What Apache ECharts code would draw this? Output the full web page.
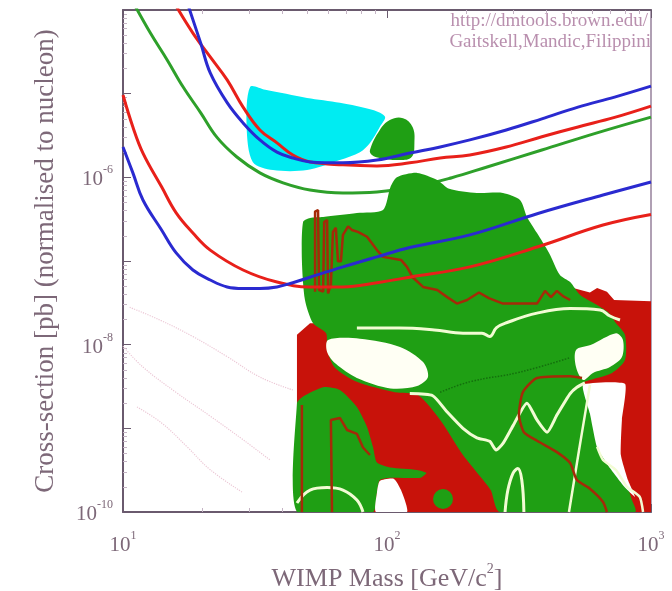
<!DOCTYPE html>
<html>
<head>
<meta charset="utf-8">
<script src="https://cdn.jsdelivr.net/npm/echarts@6/dist/echarts.min.js"></script>
<style>
  html, body { margin: 0; padding: 0; background: #fff; }
  #chart { width: 672px; height: 591px; }
</style>
</head>
<body>
<div id="chart"></div>
<script>
// tick label exponents
var xLabelExps = [1, 2, 3];
var yLabelExps = [-6, -8, -10];

// limit curves [mass GeV, cross-section pb]
var blueUpper = [[17.4,1.3e-4],[19.7,4.0e-5],[21.4,1.77e-5],[24.8,7.8e-6],[28.5,4.47e-6],[33.0,2.8e-6],[38.3,2.0e-6],[44.0,1.7e-6],[51.1,1.53e-6],[68.1,1.49e-6],[91.6,1.61e-6],[122,1.95e-6],[159,2.31e-6],[206,2.8e-6],[283,3.68e-6],[386,5.0e-6],[529,6.9e-6],[728,9.1e-6],[1000,1.23e-5]];
var redUpper = [[15.4,1.32e-4],[18.4,5.3e-5],[21.4,2.75e-5],[24.8,1.46e-5],[28.5,6.9e-6],[33.0,3.68e-6],[38.3,2.58e-6],[44.0,1.85e-6],[51.1,1.53e-6],[68.1,1.41e-6],[91.6,1.37e-6],[122,1.49e-6],[159,1.7e-6],[206,1.85e-6],[283,2.3e-6],[386,3.05e-6],[529,4.0e-6],[728,5.2e-6],[1000,7.1e-6]];
var greenUpper = [[10.8,1.32e-4],[12.7,5.3e-5],[14.7,2.53e-5],[16.9,1.2e-5],[19.7,5.9e-6],[22.7,3.0e-6],[27.0,1.75e-6],[33.0,1.13e-6],[40.4,8.6e-7],[51.1,7.06e-7],[68.1,6.5e-7],[91.6,6.7e-7],[122,7.5e-7],[176,9.9e-7],[241,1.34e-6],[386,2.12e-6],[620,3.38e-6],[1000,5.25e-6]];
var redLower = [[10,9.64e-6],[10.9,4.0e-6],[11.9,1.95e-6],[14.0,7.7e-7],[15.9,3.76e-7],[18.4,2.16e-7],[21.4,1.35e-7],[28.5,7.81e-8],[38.3,5.6e-8],[51.1,4.9e-8],[68.1,4.9e-8],[91.6,5.5e-8],[122,6.4e-8],[206,8.5e-8],[373,1.48e-7],[658,2.69e-7],[1000,3.6e-7]];
var blueLower = [[10,2.3e-6],[10.9,1.13e-6],[11.9,5.36e-7],[14.0,2.35e-7],[15.9,1.25e-7],[18.4,7.81e-8],[21.4,5.93e-8],[24.8,4.9e-8],[28.5,4.7e-8],[33.0,4.7e-8],[38.3,4.9e-8],[44.0,5.5e-8],[51.1,6.4e-8],[68.1,8.5e-8],[91.6,1.12e-7],[122,1.45e-7],[206,2.05e-7],[373,3.7e-7],[658,6.15e-7],[1000,8.8e-7]];

// faint dotted theory curves
var dotA = [[10.6,2.8e-8],[13.8,1.97e-8],[18.4,1.25e-8],[24.8,7.2e-9],[33.0,4.1e-9],[44.0,2.87e-9]];
var dotB = [[10,9.6e-9],[11.9,5.4e-9],[16.0,2.65e-9],[21.4,1.4e-9],[28.5,7.3e-10],[36.0,4.2e-10]];
var dotC = [[11.3,1.8e-9],[14.0,1.16e-9],[17.5,6.0e-10],[21.4,3.2e-10],[28.5,1.7e-10]];
var dotGreen = [[159,2.7e-9],[206,3.6e-9],[319,4.7e-9],[494,7.0e-9]];

// filled regions
var cyanRegion = [[30.3,1.2e-5],[34.6,1.11e-5],[49.8,8.9e-6],[66.3,7.8e-6],[88.5,6.38e-6],[98.3,5.3e-6],[93.9,4.0e-6],[86.2,2.58e-6],[79.0,2.0e-6],[66.3,1.61e-6],[49.8,1.22e-6],[37.0,1.22e-6],[31.0,1.53e-6],[29.4,4.0e-6]];
var greenSmall = [[86.2,2.12e-6],[93.9,3.68e-6],[102.5,4.85e-6],[115,5.1e-6],[125,4.0e-6],[127,2.58e-6],[124,1.75e-6],[112,1.61e-6],[93.9,1.7e-6],[87.7,1.85e-6]];
var redBase = [[45.6,1e-10],[45.6,1.31e-8],[51.1,1.8e-8],[60.8,1.8e-8],[452,5.93e-8],[507,4.75e-8],[587,4.2e-8],[625,4.75e-8],[681,4.3e-8],[725,3.42e-8],[1000,3.3e-8],[1000,1e-10]];
var greenMain = [[48.1,2.93e-7],[51.1,3.27e-7],[57.3,3.36e-7],[76.9,3.75e-7],[96.6,4.07e-7],[103,7.6e-7],[109,1.0e-6],[130,1.13e-6],[155,9.3e-7],[172,7.3e-7],[219,6.5e-7],[275,6.5e-7],[319,5.36e-7],[339,3.36e-7],[370,2.16e-7],[411,1.25e-7],[452,6.8e-8],[494,5.6e-8],[539,3.93e-8],[625,2.98e-8],[693,2.39e-8],[737,1.8e-8],[797,1.31e-8],[797,6.56e-9],[712,4.6e-9],[587,3.78e-9],[553,3.46e-9],[577,2.18e-9],[625,1.26e-9],[681,6.33e-10],[737,3.65e-10],[797,2.41e-10],[847,1.39e-10],[870,1e-10],[268,1e-10],[247,1.83e-10],[223,2.77e-10],[194,4.8e-10],[159,1.26e-9],[131,2.5e-9],[107,2.7e-9],[76.9,3.6e-9],[63.5,5.3e-9],[59.3,8.64e-9],[58.8,1.37e-8],[52.5,1.8e-8],[48.9,3.42e-8],[47.6,1.03e-7]];
var greenLowLeft = [[45.6,1e-10],[45.6,2.0e-9],[48.1,2.4e-9],[57.3,3.1e-9],[66.3,2.87e-9],[76.9,1.8e-9],[84,1.04e-9],[88.5,6.0e-10],[91.6,3.9e-10],[103,3.4e-10],[130,3.18e-10],[141,2.93e-10],[134,2.57e-10],[103,2.57e-10],[93.9,2.41e-10],[91.6,1.7e-10],[88.5,1e-10]];
var greenDot = [[163,1.43e-10]];
var whitePatch = [[93.9,2.35e-10],[106,2.5e-10],[113,1.83e-10],[119,1e-10],[90.8,1e-10],[91.6,1.7e-10]];
var whiteHole1 = [[59.8,1.14e-8],[79,1.18e-8],[112,9.4e-9],[137,6.2e-9],[143,4.1e-9],[130,3.2e-9],[103,3.0e-9],[76.9,4.0e-9],[64,5.9e-9],[59.3,8.2e-9]];
var whiteHole2 = [[520,8.64e-9],[590,9.9e-9],[737,1.37e-8],[783,1.14e-8],[776,7.1e-9],[699,5.4e-9],[603,4.6e-9],[553,3.78e-9],[520,5.4e-9]];
var whiteRight = [[553,3.3e-9],[797,3.4e-9],[776,1.26e-9],[769,4.8e-10],[818,2.41e-10],[870,1.52e-10],[797,1.96e-10],[699,3.35e-10],[625,5.9e-10],[587,1.5e-9]];

// contour lines inside the regions
var white1 = [[76.9,1.58e-8],[111,1.58e-8],[151,1.5e-8],[194,1.37e-8],[229,1.37e-8],[245,1.25e-8],[260,1.6e-8],[285,1.84e-8],[370,2.38e-8],[494,2.7e-8],[641,2.6e-8],[699,2.2e-8],[763,1.97e-8]];
var white2 = [[122,2.6e-9],[149,2.45e-9],[168,1.6e-9],[194,1.0e-9],[219,7.7e-10],[245,7.0e-10],[259,5.5e-10],[275,6.6e-10],[300,1.07e-9],[339,2.0e-9],[370,1.26e-9],[404,9.0e-10],[440,1.44e-9],[494,2.6e-9],[524,3.1e-9],[562,3.5e-9]];
var white3 = [[587,3.3e-9],[534,5.5e-10],[489,1e-10]];
var white4 = [[280,1e-10],[287,1.83e-10],[300,2.9e-10],[313,3.3e-10],[324,2.41e-10],[330,1e-10]];
var white5 = [[625,6.0e-10],[658,4.19e-10],[737,3.18e-10],[811,2.0e-10],[906,1.52e-10],[933,1e-10]];
var white6 = [[45.6,1.28e-10],[51.1,1.83e-10],[59.3,1.96e-10],[68.1,1.83e-10],[76.9,1.39e-10],[81.1,1e-10]];
var darkRed1 = [[53.4,4.3e-8],[53.4,3.9e-7],[54.8,4.07e-7],[55.3,4.5e-8],[57.3,4.3e-8],[57.8,2.93e-7],[59.3,3.09e-7],[59.8,4.1e-8],[61.3,5.17e-8],[62.4,2.23e-7],[64,2.5e-7],[65.2,9.9e-8],[66.9,9.9e-8],[68.1,2.05e-7],[71.2,2.6e-7],[73.6,2.35e-7],[77.6,2.23e-7],[84,1.95e-7],[91.6,1.35e-7],[96.6,1.12e-7],[113,1.03e-7],[119,8.5e-8],[125,6.4e-8],[137,4.9e-8],[155,4.5e-8],[169,3.7e-8],[184,3.1e-8],[201,3.42e-8],[223,4.2e-8],[243,3.6e-8],[275,3.1e-8],[370,3.1e-8],[397,4.4e-8],[418,3.7e-8],[440,4.4e-8],[464,3.8e-8],[494,3.42e-8]];
var darkRed2 = [[548,4.0e-9],[494,4.2e-9],[370,4.0e-9],[327,2.7e-9],[316,1.44e-9],[330,9.0e-10],[370,7.1e-10],[440,5.2e-10],[494,3.85e-10],[524,2.41e-10],[587,1.9e-10],[658,1.32e-10],[681,1e-10]];
var darkRed3 = [[47.6,1e-10],[47.6,1.9e-9]];
var darkRed4 = [[61.9,1e-10],[61.3,1.26e-9],[66.3,1.33e-9],[70.6,9.55e-10],[76.9,8.6e-10],[81.1,5.9e-10],[86.2,4.8e-10]];

var serif = '"Liberation Serif", "DejaVu Serif", serif';
var textColor = '#7d6878';
var frameColor = '#6a5a6e';

function region(points, color, z, smooth) {
  return {
    type: 'custom',
    silent: true,
    z: z,
    data: points,
    renderItem: function (params, api) {
      if (params.dataIndex !== 0) return;
      var cs = params.coordSys;
      return {
        type: 'polygon',
        shape: { points: points.map(function (p) { return api.coord(p); }), smooth: smooth || 0 },
        style: { fill: color },
        clipPath: { type: 'rect', shape: { x: cs.x, y: cs.y, width: cs.width, height: cs.height } }
      };
    }
  };
}

function curve(points, color, width, z, opts) {
  opts = opts || {};
  return {
    type: 'line',
    data: points,
    symbol: 'none',
    silent: true,
    smooth: opts.smooth === undefined ? 0.4 : opts.smooth,
    z: z,
    lineStyle: { color: color, width: width, type: opts.type || 'solid', opacity: opts.opacity || 1 }
  };
}

function logLabel(exps) {
  return function (v) {
    var e = Math.round(Math.log10(v));
    return exps.indexOf(e) >= 0 ? '{b|10}{s|' + e + '}' : '';
  };
}

var labelRich = {
  b: { fontFamily: serif, fontSize: 21, color: textColor, lineHeight: 26, verticalAlign: 'bottom' },
  s: { fontFamily: serif, fontSize: 12, color: textColor, lineHeight: 26, verticalAlign: 'top' }
};

var chart = echarts.init(document.getElementById('chart'));
chart.setOption({
  animation: false,
  backgroundColor: '#fff',
  grid: { left: 123, right: 21, top: 10, bottom: 79, containLabel: false, outerBoundsMode: 'none' },
  xAxis: [{
    type: 'log', logBase: 10, min: 10, max: 1000,
    name: '{n|WIMP Mass [GeV/c}{s|2}{n|]}',
    nameLocation: 'middle', nameGap: 50,
    nameTextStyle: { rich: {
      n: { fontFamily: serif, fontSize: 26, color: textColor, lineHeight: 30, verticalAlign: 'bottom' },
      s: { fontFamily: serif, fontSize: 14, color: textColor, lineHeight: 30, verticalAlign: 'top' }
    } },
    axisLine: { show: true, lineStyle: { color: frameColor, width: 2 } },
    axisTick: { inside: true, length: 8, lineStyle: { color: frameColor } },
    minorTick: { show: true, splitNumber: 9, length: 4, lineStyle: { color: '#c4b4c4' } },
    splitLine: { show: false },
    axisLabel: { margin: 18, formatter: logLabel(xLabelExps), rich: labelRich }
  }, {
    type: 'log', logBase: 10, min: 10, max: 1000, position: 'top',
    axisLine: { show: true, lineStyle: { color: frameColor, width: 2 } },
    axisTick: { inside: true, length: 8, lineStyle: { color: frameColor } },
    minorTick: { show: true, splitNumber: 9, length: 4, lineStyle: { color: '#c4b4c4' } },
    splitLine: { show: false },
    axisLabel: { show: false }
  }],
  yAxis: [{
    type: 'log', logBase: 10, min: 1e-10, max: 1e-4,
    name: 'Cross-section [pb] (normalised to nucleon)',
    nameLocation: 'middle', nameGap: 64,
    nameTextStyle: { fontFamily: serif, fontSize: 27, color: textColor },
    axisLine: { show: true, lineStyle: { color: frameColor, width: 2 } },
    axisTick: { inside: true, length: 8, lineStyle: { color: frameColor } },
    minorTick: { show: true, splitNumber: 9, length: 4, lineStyle: { color: '#c4b4c4' } },
    splitLine: { show: false },
    axisLabel: { margin: 10, formatter: logLabel(yLabelExps), rich: labelRich }
  }, {
    type: 'log', logBase: 10, min: 1e-10, max: 1e-4, position: 'right',
    axisLine: { show: true, lineStyle: { color: '#b0a0b4', width: 2 } },
    axisTick: { show: false },
    splitLine: { show: false },
    axisLabel: { show: false }
  }],
  graphic: [
    { type: 'text', right: 24, top: 12, style: { text: 'http://dmtools.brown.edu/', font: '19px ' + serif, fill: '#b98fae' } },
    { type: 'text', right: 21, top: 33, style: { text: 'Gaitskell,Mandic,Filippini', font: '19px ' + serif, fill: '#b98fae' } }
  ],
  series: [
    curve(dotA, '#ecc8d6', 1.2, 1, { type: 'dotted' }),
    curve(dotB, '#ecc8d6', 1.2, 1, { type: 'dotted' }),
    curve(dotC, '#ecc8d6', 1.2, 1, { type: 'dotted' }),
    curve(greenUpper, '#2ea02a', 3, 2),
    region(redBase, '#c8120a', 3, 0),
    region(greenMain, '#1f9f14', 4, 0.25),
    region(greenLowLeft, '#1f9f14', 4, 0.2),
    region(greenSmall, '#1f9f14', 4, 0.4),
    region(cyanRegion, '#00ecf2', 4, 0.3),
    region(whitePatch, '#ffffff', 5, 0.2),
    region(whiteHole1, '#fffff4', 5, 0.3),
    region(whiteHole2, '#fffff4', 5, 0.3),
    region(whiteRight, '#ffffff', 5, 0.15),
    {
      type: 'scatter', data: greenDot, symbolSize: 20, silent: true, z: 5,
      itemStyle: { color: '#1f9f14', opacity: 1 }
    },
    curve(dotGreen, '#0e5a0a', 1.5, 6, { type: 'dotted', opacity: 0.7 }),
    curve(white1, '#f2fcd4', 3, 6),
    curve(white2, '#f2fcd4', 3, 6, { smooth: 0.2 }),
    curve(white3, '#f2fcd4', 2.5, 6),
    curve(white4, '#f2fcd4', 3, 6),
    curve(white5, '#f2fcd4', 2.5, 6, { smooth: 0.2 }),
    curve(white6, '#f2fcd4', 3, 6),
    curve(darkRed1, '#a52a08', 2.5, 6, { smooth: 0 }),
    curve(darkRed2, '#a52a08', 2.5, 6, { smooth: 0.2 }),
    curve(darkRed3, '#a52a08', 2.5, 6, { smooth: 0 }),
    curve(darkRed4, '#a52a08', 2.5, 6, { smooth: 0 }),
    curve(redUpper, '#e8201a', 3, 7),
    curve(blueUpper, '#2a2ad0', 3, 7),
    curve(redLower, '#e8201a', 3, 7),
    curve(blueLower, '#2a2ad0', 3, 7)
  ]
});
</script>
</body>
</html>
